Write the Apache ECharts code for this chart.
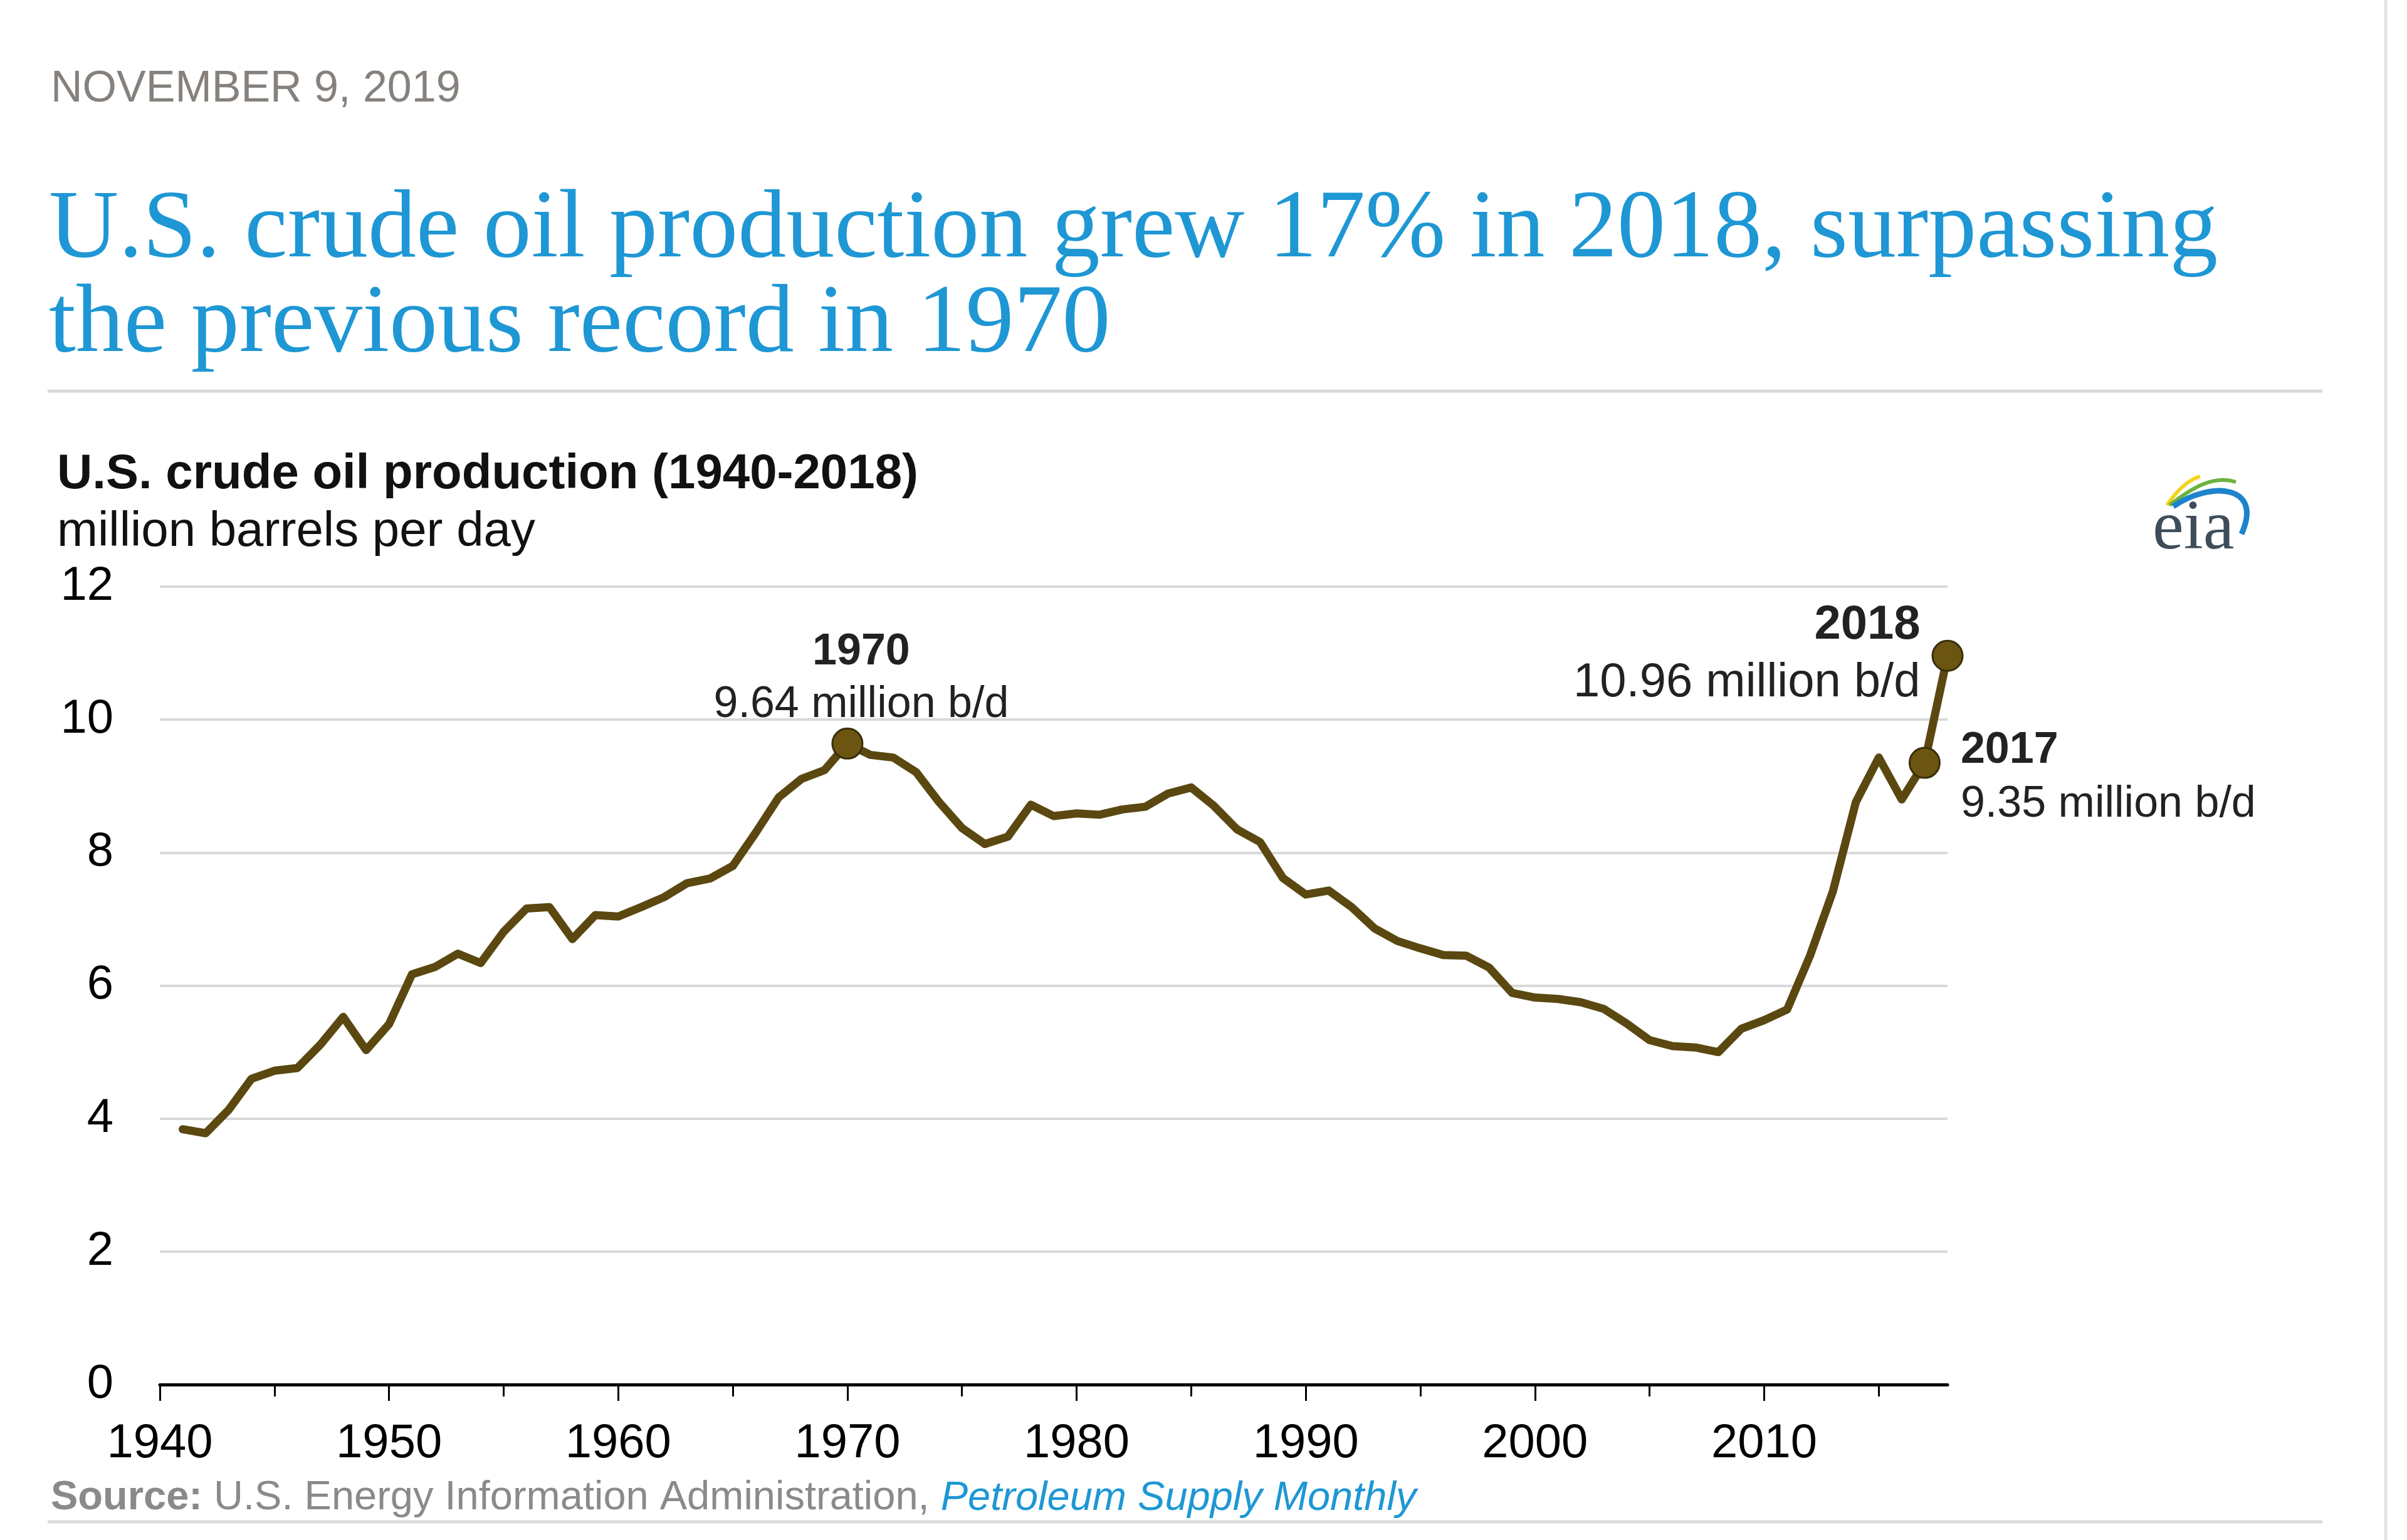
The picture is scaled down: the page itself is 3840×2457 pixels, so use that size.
<!DOCTYPE html>
<html>
<head>
<meta charset="utf-8">
<script src="https://cdn.jsdelivr.net/npm/echarts@6/dist/echarts.min.js"></script>
<style>
html,body{margin:0;padding:0;background:#fff;}
#chart{width:3840px;height:2457px;}
</style>
</head>
<body>
<div id="chart"></div>
<script>
// ---- data ----
const years = [1941,1942,1943,1944,1945,1946,1947,1948,1949,1950,
  1951,1952,1953,1954,1955,1956,1957,1958,1959,1960,
  1961,1962,1963,1964,1965,1966,1967,1968,1969,1970,
  1971,1972,1973,1974,1975,1976,1977,1978,1979,1980,
  1981,1982,1983,1984,1985,1986,1987,1988,1989,1990,
  1991,1992,1993,1994,1995,1996,1997,1998,1999,2000,
  2001,2002,2003,2004,2005,2006,2007,2008,2009,2010,
  2011,2012,2013,2014,2015,2016,2017,2018];
const production = [3.84,3.78,4.13,4.60,4.72,4.76,5.11,5.53,5.03,5.42,
  6.17,6.28,6.48,6.34,6.81,7.16,7.18,6.70,7.06,7.04,
  7.18,7.33,7.54,7.61,7.80,8.30,8.83,9.11,9.24,9.64,
  9.47,9.43,9.21,8.76,8.37,8.13,8.24,8.72,8.55,8.59,
  8.57,8.65,8.69,8.89,8.98,8.70,8.35,8.16,7.62,7.37,
  7.43,7.18,6.86,6.67,6.56,6.46,6.45,6.27,5.89,5.82,
  5.80,5.75,5.65,5.43,5.18,5.09,5.07,5.00,5.35,5.48,
  5.64,6.45,7.42,8.76,9.43,8.80,9.35,10.96];
const highlightYears = [1970, 2017, 2018];
const decadeTicks = [1940,1950,1960,1970,1980,1990,2000,2010];
const halfDecadeTicks = [1945,1955,1965,1975,1985,1995,2005,2015];
const yTicks = {min: 0, max: 12, interval: 2};

const SANS = '"Liberation Sans", Arial, Helvetica, sans-serif';
const SERIF = '"Liberation Serif", "Times New Roman", serif';
const LINE = '#5a4810';

const lineData = years.map((y, i) => [y, production[i]]);

const labelCfg = {
  1970: {position: 'top', distance: -6, offset: [22, 0], align: 'center', fs: 70, lh: 84},
  2017: {position: 'right', distance: 32, offset: [0, 24], align: 'left', fs: 70, lh: 86},
  2018: {position: 'left', distance: 18, offset: [0, -2], align: 'right', fs: 76, lh: 92}
};
const pointData = highlightYears.map(y => {
  const v = production[years.indexOf(y)];
  const c = labelCfg[y];
  return {
    value: [y, v],
    label: {
      show: true,
      position: c.position,
      distance: c.distance,
      offset: c.offset,
      align: c.align,
      formatter: '{a|' + y + '}\n{b|' + v.toFixed(2) + ' million b/d}',
      rich: {
        a: {fontFamily: SANS, fontWeight: 'bold', fontSize: c.fs, lineHeight: c.lh, color: '#222', align: c.align},
        b: {fontFamily: SANS, fontSize: c.fs, lineHeight: c.lh, color: '#222', align: c.align}
      }
    }
  };
});

const chart = echarts.init(document.getElementById('chart'), null, {renderer: 'canvas'});

const option = {
  backgroundColor: '#ffffff',
  animation: false,
  grid: {left: 255, right: 733, top: 936, bottom: 248, containLabel: false, outerBoundsMode: 'none'},
  xAxis: [{
    type: 'value', min: 1940, max: 2018, interval: 5,
    axisLine: {show: true, lineStyle: {color: '#000', width: 5}},
    axisTick: {show: true, customValues: decadeTicks, length: 26, lineStyle: {color: '#000', width: 3}},
    axisLabel: {show: true, customValues: decadeTicks, fontFamily: SANS, fontSize: 76, color: '#000', margin: 57,
      formatter: v => String(v)},
    splitLine: {show: false}
  }, {
    type: 'value', min: 1940, max: 2018, interval: 5, position: 'bottom',
    axisLine: {show: false},
    axisTick: {show: true, customValues: halfDecadeTicks, length: 19, lineStyle: {color: '#000', width: 3}},
    axisLabel: {show: false},
    splitLine: {show: false}
  }],
  yAxis: {
    type: 'value', min: yTicks.min, max: yTicks.max, interval: yTicks.interval,
    axisLine: {show: false}, axisTick: {show: false},
    axisLabel: {fontFamily: SANS, fontSize: 76, color: '#000', margin: 74},
    splitLine: {show: true, lineStyle: {color: '#d9d9d9', width: 4}}
  },
  series: [{
    type: 'line',
    data: lineData,
    showSymbol: false,
    symbol: 'none',
    lineStyle: {color: LINE, width: 13, join: 'round', cap: 'round'},
    z: 3
  }, {
    type: 'scatter',
    data: pointData,
    symbol: 'circle',
    symbolSize: 48,
    itemStyle: {color: '#6b5511', borderColor: '#3a2e0a', borderWidth: 3, opacity: 1},
    z: 4
  }],
  graphic: [
    {type: 'text', left: 81, top: 108, style: {text: 'NOVEMBER 9, 2019', font: '70px ' + SANS, fill: '#86817c'}},
    {type: 'text', left: 78, top: 292, style: {text: 'U.S. crude oil production grew 17% in 2018, surpassing', font: '154px ' + SERIF, fill: '#1e97d4'}},
    {type: 'text', left: 78, top: 443, style: {text: 'the previous record in 1970', font: '154px ' + SERIF, fill: '#1e97d4'}},
    {type: 'line', shape: {x1: 76, y1: 624, x2: 3705, y2: 624}, style: {stroke: '#d9d9d9', lineWidth: 5}},
    {type: 'text', left: 91, top: 718, style: {text: 'U.S. crude oil production (1940-2018)', font: 'bold 78px ' + SANS, fill: '#111'}},
    {type: 'text', left: 91, top: 810, style: {text: 'million barrels per day', font: '78px ' + SANS, fill: '#111'}},
    {type: 'text', left: 81, top: 2358, style: {
      text: '{s|Source:}{r| U.S. Energy Information Administration, }{i|Petroleum Supply Monthly}',
      rich: {
        s: {fontFamily: SANS, fontWeight: 'bold', fontSize: 65, fill: '#8a8a8a', color: '#8a8a8a'},
        r: {fontFamily: SANS, fontSize: 65, fill: '#8a8a8a', color: '#8a8a8a'},
        i: {fontFamily: SANS, fontStyle: 'italic', fontSize: 65, fill: '#1e97d4', color: '#1e97d4'}
      }
    }},
    {type: 'line', shape: {x1: 76, y1: 2428, x2: 3705, y2: 2428}, style: {stroke: '#dcdcdc', lineWidth: 5}},
    {type: 'line', shape: {x1: 3806, y1: 0, x2: 3806, y2: 2457}, style: {stroke: '#e3e3e3', lineWidth: 5}},
    // eia logo
    {type: 'bezierCurve', shape: {x1: 3457, y1: 806, cpx1: 3472, cpy1: 784, cpx2: 3490, cpy2: 766, x2: 3510, y2: 760}, style: {stroke: '#f3d31c', lineWidth: 6, fill: null}},
    {type: 'bezierCurve', shape: {x1: 3461, y1: 806, cpx1: 3495, cpy1: 780, cpx2: 3530, cpy2: 757, x2: 3567, y2: 769}, style: {stroke: '#6cb33f', lineWidth: 6, fill: null}},
    {type: 'bezierCurve', shape: {x1: 3467, y1: 808, cpx1: 3525, cpy1: 768, cpx2: 3612, cpy2: 772, x2: 3576, y2: 852}, style: {stroke: '#1c83cc', lineWidth: 9, fill: null}},
    {type: 'text', left: 3434, top: 790, style: {text: 'eia', font: '112px ' + SERIF, fill: '#3f4d5a'}}
  ]
};
chart.setOption(option);
</script>
</body>
</html>
